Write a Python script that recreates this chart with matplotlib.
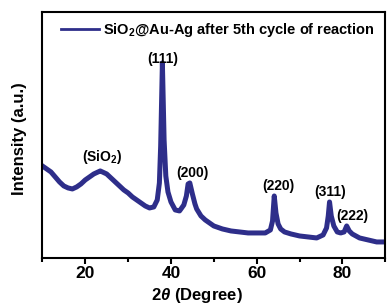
import matplotlib
matplotlib.use("Agg")
import matplotlib.pyplot as plt

plt.rcParams['font.family'] = ['Liberation Sans', 'DejaVu Sans']
plt.rcParams['mathtext.fontset'] = 'custom'
plt.rcParams['mathtext.it'] = 'Liberation Sans:italic:bold'
plt.rcParams['mathtext.rm'] = 'Liberation Sans:bold'

two_theta = [10, 11, 12, 13, 14, 15, 16, 17, 18, 19, 20, 21, 22, 23, 23.5, 24, 25, 26, 27, 28,
             29, 30, 31, 32, 33, 34, 35, 36, 36.8, 37.3, 37.6, 38.0, 38.4, 38.8, 39.3, 40, 41,
             42, 43, 43.6, 44.0, 44.4, 45, 45.6, 46, 47, 48, 49, 50, 52, 54, 56, 58, 60, 62,
             63.2, 63.7, 64.1, 64.5, 65.0, 65.6, 66.5, 68, 70, 72, 74, 75.5, 76.3, 76.7, 77.0,
             77.4, 78, 78.8, 79.6, 80.4, 81.0, 81.6, 82.3, 84, 86, 88, 90]
intensity = [92, 89, 86, 81, 76, 72, 70, 69, 71, 74, 78, 81, 84, 86, 87, 86, 84, 80, 76, 72,
             68, 65, 61, 58, 55, 52, 50, 51, 58, 75, 112, 195, 118, 82, 66, 56, 48,
             47, 53, 62, 74, 75, 64, 54, 49, 42, 38, 35, 32, 29, 27, 26, 25, 25, 25,
             28, 37, 62, 45, 34, 29, 26, 24, 22, 21, 20, 23, 30, 42, 56,
             42, 32, 26, 25, 26, 32, 27, 24, 20, 18, 16, 16]

peak_labels = ['(SiO$_2$)', '(111)', '(200)', '(220)', '(311)', '(222)']
label_x = [24.0, 38.0, 45.0, 65.0, 77.1, 82.3]
label_y = [101, 199, 85, 72, 66, 42]

legend_label = 'SiO$_2$@Au-Ag after 5th cycle of reaction'
line_color = '#2e2e8a'

fig = plt.figure(figsize=(3.87, 3.06), dpi=100)
ax = fig.add_axes([0.1095, 0.157, 0.886, 0.804])
ax.plot(two_theta, intensity, color=line_color, lw=3.6, label=legend_label,
        solid_joinstyle='round')

for s, x, y in zip(peak_labels, label_x, label_y):
    ax.text(x, y, s, ha='center', va='center', fontsize=10, fontweight='bold')

ax.set_xlim(10, 90)
ax.set_ylim(0, 246)
ax.set_xticks([20, 40, 60, 80])
ax.set_xticks([10, 30, 50, 70, 90], minor=True)
ax.set_yticks([])
ax.tick_params(axis='x', which='major', direction='out', length=4, width=1.5,
               labelsize=12.5, pad=2)
ax.tick_params(axis='x', which='minor', direction='out', length=3, width=1.5)
for lab in ax.get_xticklabels():
    lab.set_fontweight('bold')
for sp in ax.spines.values():
    sp.set_linewidth(1.5)

ax.set_xlabel(r'2$\it{\theta}$ (Degree)', fontsize=12, fontweight='bold')
ax.xaxis.set_label_coords(0.45, -0.115)
ax.set_ylabel('Intensity (a.u.)', fontsize=12, fontweight='bold')
ax.yaxis.set_label_coords(-0.045, 0.485)

leg = ax.legend(loc='upper left', frameon=False,
                prop={'weight': 'bold', 'size': 10.5},
                handlelength=2.6, handletextpad=0.25, borderaxespad=0.2,
                bbox_to_anchor=(0.03, 1.0))
for lh in leg.get_lines():
    lh.set_linewidth(2)

fig.savefig('out.png', dpi=100)
